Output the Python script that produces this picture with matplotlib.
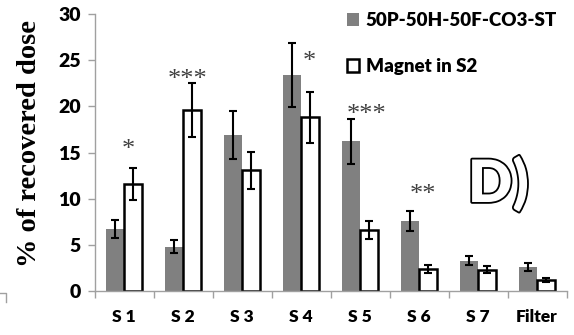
import matplotlib
matplotlib.use("Agg")
import matplotlib.pyplot as plt
import matplotlib.patheffects as pe
import numpy as np

categories = ["S 1", "S 2", "S 3", "S 4", "S 5", "S 6", "S 7", "Filter"]
series1_name = "50P-50H-50F-CO3-ST"
series2_name = "Magnet in S2"
series1 = [6.7, 4.8, 16.9, 23.4, 16.2, 7.6, 3.3, 2.6]
series1_err = [1.0, 0.7, 2.6, 3.5, 2.4, 1.1, 0.5, 0.4]
series2 = [11.6, 19.6, 13.1, 18.8, 6.6, 2.4, 2.3, 1.2]
series2_err = [1.7, 2.9, 2.0, 2.8, 1.0, 0.4, 0.4, 0.2]
# significance marks: (category index, x offset in category units, y centre value, text)
sig_marks = [(0, 0.08, 16.1, "*"), (1, 0.08, 23.7, "***"), (3, 0.14, 25.6, "*"),
             (4, 0.12, 19.9, "***"), (5, 0.07, 11.3, "**")]

W, H = 574, 335
fig = plt.figure(figsize=(W / 100, H / 100), dpi=100)
ax = fig.add_axes([94.5 / W, 1 - 291 / H, 472 / W, 277 / H])

x = np.arange(len(categories))
w = 0.31
ax.bar(x - w / 2, series1, w, color="#808080", edgecolor="none", label=series1_name)
ax.bar(x + w / 2, series2, w, color="white", edgecolor="black", linewidth=1.8, label=series2_name)
ek = dict(fmt="none", ecolor="black", elinewidth=1.5, capsize=2.6, capthick=1.5)
ax.errorbar(x - w / 2, series1, yerr=series1_err, **ek)
ax.errorbar(x + w / 2, series2, yerr=series2_err, **ek)

for i, dx, y, t in sig_marks:
    ax.text(i + dx, y - 1.5, t, ha="center", va="baseline", fontsize=19, color="#404040",
            family="Liberation Serif")

ax.set_xlim(-0.5, len(categories) - 0.5)
ax.set_ylim(0, 30)
ax.set_yticks([0, 5, 10, 15, 20, 25, 30])
ax.set_xticks(x)
ax.set_xticklabels(categories)
ax.set_xticks(np.arange(len(categories) + 1) - 0.5, minor=True)
ax.tick_params(axis="x", which="major", length=0, pad=13)
ax.tick_params(axis="x", which="minor", length=5, color="#a0a0a0", width=1)
ax.tick_params(axis="y", length=5, color="#a0a0a0", width=1, pad=5)
for lab in ax.get_xticklabels():
    lab.set_fontfamily("Lato")
    lab.set_fontweight("heavy")
    lab.set_fontsize(12.5)
for lab in ax.get_yticklabels():
    lab.set_fontfamily("Lato")
    lab.set_fontweight("heavy")
    lab.set_fontsize(14)
for s in ["top", "right"]:
    ax.spines[s].set_visible(False)
for s in ["left", "bottom"]:
    ax.spines[s].set_color("#a0a0a0")
    ax.spines[s].set_linewidth(1)

ax.set_ylabel("% of recovered dose", family="Liberation Serif", fontweight="bold",
              fontsize=20.5)
ax.yaxis.set_label_coords(-0.112, 0.534)

leg = fig.legend(*ax.get_legend_handles_labels(), loc="upper left",
                 bbox_to_anchor=(347 / W, 1 - 12 / H), frameon=False,
                 borderpad=0, borderaxespad=0,
                 prop={"family": "Lato", "weight": "heavy", "size": 13.5},
                 handlelength=0.63, handleheight=0.63, handletextpad=0.37, labelspacing=1.55)

fig.text(468 / W, 1 - 202 / H, "D)", fontsize=42, color="white",
         family="Lato", fontweight="heavy", ha="left", va="baseline",
         path_effects=[pe.withStroke(linewidth=2.6, foreground="black")])

fig.add_artist(plt.Line2D([0, 0.01, 0.01], [0.125, 0.125, 0.10], color="#a0a0a0",
                          lw=1, transform=fig.transFigure))

fig.savefig("out.png", dpi=100)
